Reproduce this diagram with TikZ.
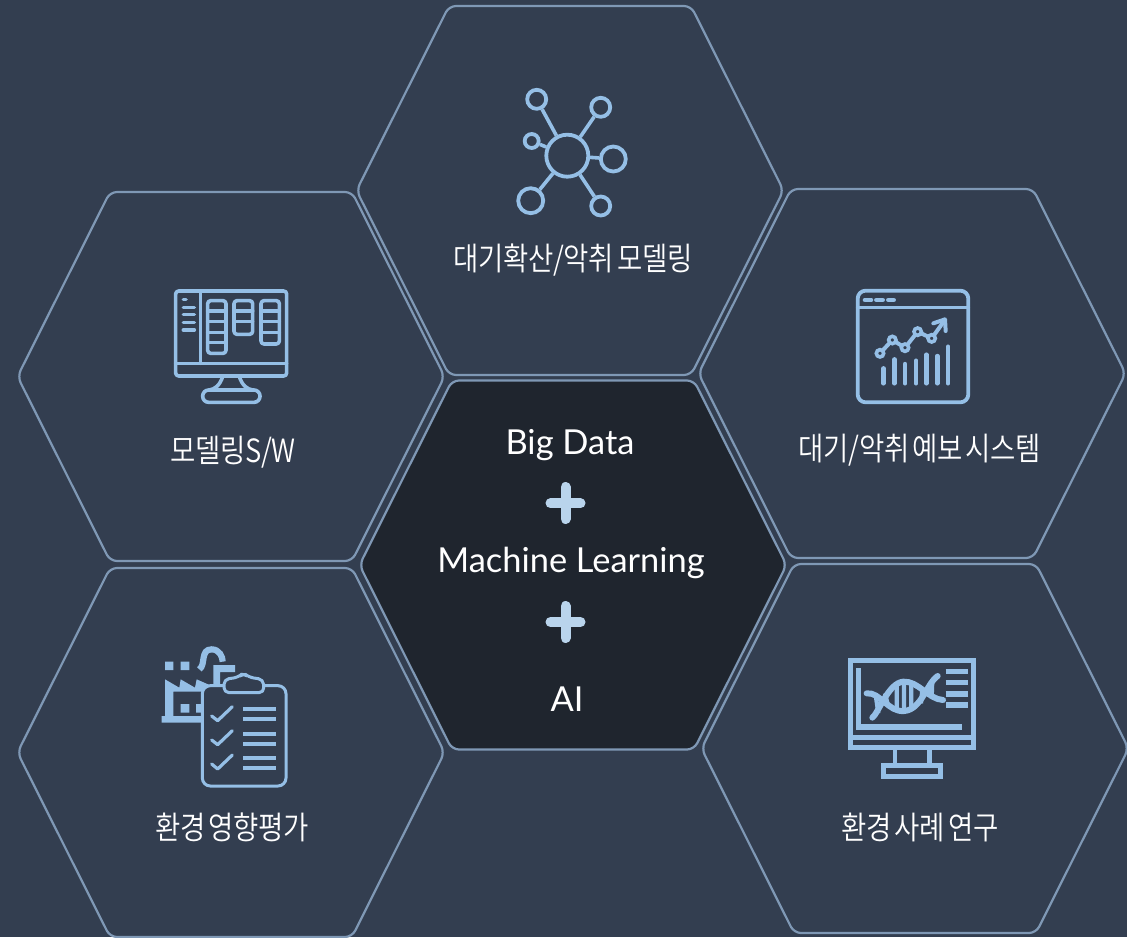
\documentclass[tikz,border=0pt]{standalone}
\usepackage{fontspec}
\setmainfont{Lato}
\newfontfamily\krf[LetterSpace=-1,FakeStretch=0.86,WordSpace=0.5]{Noto Sans CJK KR DemiLight}
\definecolor{bgc}{HTML}{333E50}
\definecolor{darkc}{HTML}{1F252E}
\definecolor{edgec}{HTML}{7F98B5}
\definecolor{iconc}{HTML}{95BFE6}
\definecolor{plusc}{HTML}{B9D4EC}
\newcommand{\hexa}[3][bgc]{%
  \draw[hexline,fill=#1] (#2-213.5,#3) -- (#2-121,#3-184.5) -- (#2+121,#3-184.5) -- (#2+213.5,#3) -- (#2+121,#3+184.5) -- (#2-121,#3+184.5) -- cycle;}
\tikzset{
  hexline/.style={draw=edgec,line width=2.2pt,rounded corners=7pt},
  ic/.style={draw=iconc,line width=3.6pt,line cap=round,line join=round},
  icb/.style={draw=iconc,line width=#1,line cap=butt},
  ring/.style={circle,draw=iconc,line width=3.8pt,inner sep=0pt,minimum size=#1},
  kr/.style={text=white,font=\krf\fontsize{32}{34}\selectfont,inner sep=0pt},
  la/.style={text=white,font=\fontsize{34.4}{36}\selectfont,inner sep=0pt,anchor=base},
  plussign/.style={draw=plusc,line width=10pt,line cap=round},
  zoomed/.style={x=0.33333pt,y=-0.33333pt},
}
\begin{document}
\begin{tikzpicture}[x=1pt,y=-1pt]
\useasboundingbox (0,0) rectangle (1127,937);
\fill[bgc] (0,0) rectangle (1127,937);
\begin{scope}
\clip (0,0) rectangle (1127,937);
\hexa{570}{190.5}
\hexa{231}{376.5}
\hexa{912}{373.5}
\hexa[darkc]{573}{565}
\hexa{231}{752.5}
\hexa{915}{748.5}
\end{scope}
% labels
\node[la] (bd) at (570,454) {Big Data};
\node[la] (ml) at (571,572.7) {Machine Learning};
\node[la] (ai) at (567,711) {AI};
\draw[plussign] (550.5,503.3) -- (580.5,503.3) (565.5,487) -- (565.5,519);
\draw[plussign] (550.5,622) -- (580.5,622) (565.5,606) -- (565.5,638);
\node[kr] (t1) at (573,260) {대기확산/악취 모델링};
\node[kr] (t2) at (233,452) {모델링S/W};
\node[kr] (t3) at (920,450) {대기/악취 예보 시스템};
\node[kr] (t4) at (232,827) {환경 영향평가};
\node[kr] (t5) at (920,827) {환경 사례 연구};
% network icon
\node[ring=42pt] (hub) at (567.3,155.7) {};
\node[ring=19pt] (s1) at (536.7,99.3) {};
\node[ring=19pt] (s2) at (600.7,107.3) {};
\node[ring=14pt] (s3) at (531.7,141) {};
\node[ring=25pt] (s4) at (613.3,159) {};
\node[ring=25pt] (s5) at (530.7,200.7) {};
\node[ring=19pt] (s6) at (600.7,206) {};
\foreach \s in {s1,s2,s3,s4,s5,s6} \draw[draw=iconc,line width=3.6pt] (hub) -- (\s);
% monitor icon
\begin{scope}[shift={(160pt,-280pt)},zoomed]
\draw[ic,rounded corners=3pt] (47,33) rectangle (380,288);
\draw[ic] (47,250) -- (380,250) (122,33) -- (122,250);
\draw[ic,rounded corners=3pt] (143,62) rectangle (198,220);
\draw[ic] (143,93) -- (198,93) (143,125) -- (198,125) (143,157) -- (198,157) (143,188) -- (198,188);
\draw[ic,rounded corners=3pt] (222,62) rectangle (278,163);
\draw[ic] (222,93) -- (278,93) (222,125) -- (278,125);
\draw[ic,rounded corners=3pt] (303,62) rectangle (358,192);
\draw[ic] (303,93) -- (358,93) (303,125) -- (358,125) (303,157) -- (358,157);
\draw[ic] (70,58) -- (78,58) (70,82) -- (103,82) (70,104) -- (103,104) (70,127) -- (103,127) (70,150) -- (103,150);
\draw[ic] (188,290) .. controls (180,315) and (165,328) .. (148,330);
\draw[ic] (238,290) .. controls (246,315) and (261,328) .. (278,330);
\draw[ic,rounded corners=6pt] (128,330) rectangle (300,367);
\end{scope}
% chart icon
\begin{scope}[shift={(845pt,-280pt)},zoomed]
\draw[ic,line width=3.8pt,rounded corners=8pt] (38,32) rectangle (370,367);
\draw[ic,line width=3.4pt] (38,83) -- (370,83);
\draw[ic,line width=4.6pt] (60,60) -- (78,60) (94,60) -- (113,60) (130,60) -- (146,60);
\draw[ic,line width=4pt] (105,220) -- (142,180) -- (180,203) -- (218,155) -- (260,175) -- (296,125);
\draw[ic,line width=4pt] (265,130) -- (300,118) -- (302,153);
\foreach \p in {(105,220),(142,180),(180,203),(218,155),(260,175)}
  \draw[draw=iconc,fill=bgc,line width=3.6pt] \p circle[radius=11];
\foreach \x/\y in {115/265,148/238,180/252,213/242,244/224,277/228,309/200}
  \draw[ic,line width=4.4pt] (\x,\y) -- (\x,310);
\end{scope}
% factory + clipboard icon
\begin{scope}[shift={(150pt,-640pt)},zoomed]
\fill[iconc] (45,65) rectangle (70,90) (92,65) rectangle (118,90);
\draw[icb=6.2pt] (148,88) .. controls (168,75) and (150,28) .. (185,28) .. controls (208,28) and (218,50) .. (218,65);
\fill[iconc] (190,75) -- (255,75) -- (255,96) -- (210,96) -- (210,135) -- (190,135) -- cycle;
\fill[iconc] (45,118) -- (88,143) -- (92,118) -- (135,143) -- (140,118) -- (190,140) -- (190,155) -- (70,155) -- (70,228) -- (160,228) -- (160,248) -- (35,248) -- (35,228) -- (45,228) -- cycle;
\fill[iconc] (92,192) rectangle (118,218) (138,192) rectangle (162,218);
\draw[ic,fill=bgc,rounded corners=8pt,line width=3pt] (157,137) rectangle (408,438);
\draw[ic,fill=bgc,line width=3pt,rounded corners=5pt] (222,158) -- (222,118) -- (265,112) -- (280,98) -- (297,112) -- (340,118) -- (342,158) -- cycle;
\draw[ic,line width=3.2pt] (185,228) -- (203,242) -- (247,200);
\draw[ic,line width=3.2pt] (185,300) -- (203,314) -- (247,272);
\draw[ic,line width=3.2pt] (185,372) -- (203,387) -- (247,345);
\foreach \y in {208,238,283,312,355,384} \draw[icb=3.8pt] (280,\y) -- (378,\y);
\end{scope}
% DNA monitor icon
\begin{scope}[shift={(835pt,-650pt)},zoomed]
\draw[icb=5pt] (45,32) rectangle (416,291);
\draw[icb=5pt] (45,263) -- (416,263);
\draw[icb=4.6pt] (180,298) -- (180,350) (283,298) -- (283,350);
\draw[icb=5pt] (145,345) rectangle (316,378);
\draw[icb=5.4pt] (70,55) -- (70,231) -- (382,231);
\foreach \y in {65,98,132,165} \draw[icb=5.2pt] (332,\y) -- (398,\y);
\draw[ic,line width=6pt] (95,130) .. controls (135,125) and (160,188) .. (208,183) .. controls (260,178) and (275,100) .. (308,78);
\draw[ic,line width=6pt] (112,203) .. controls (130,190) and (160,98) .. (205,95) .. controls (250,92) and (280,148) .. (324,150);
\draw[ic,line width=4.2pt,line cap=butt] (122,135) -- (130,190) (150,130) -- (160,170) (185,105) -- (185,180) (207,95) -- (207,183) (229,100) -- (229,178) (262,118) -- (258,160) (292,90) -- (290,145);
\end{scope}
\end{tikzpicture}
\end{document}
